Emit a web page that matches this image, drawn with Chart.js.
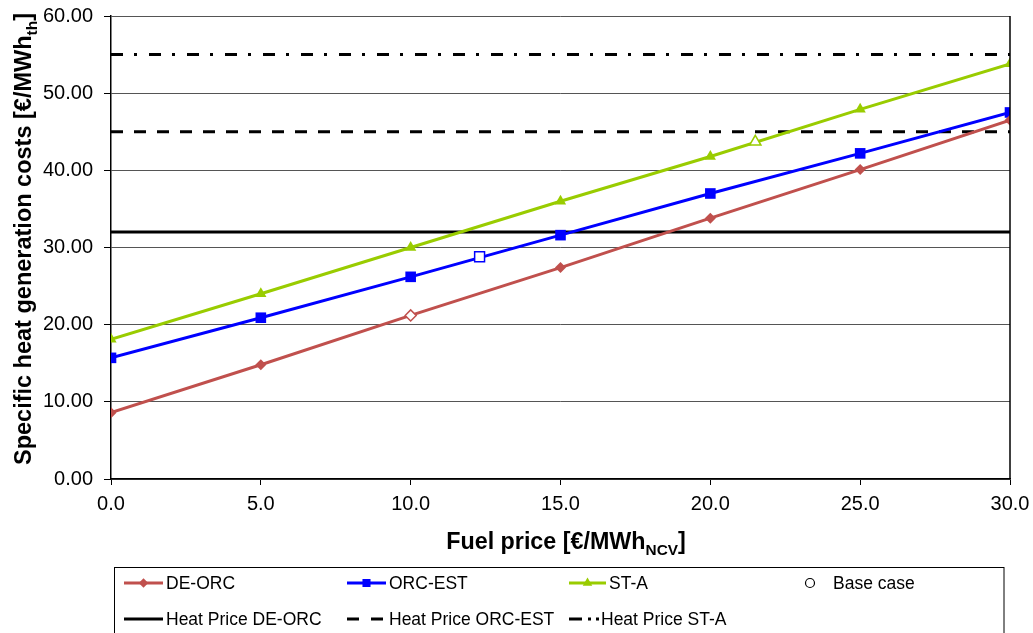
<!DOCTYPE html>
<html>
<head>
<meta charset="utf-8">
<script src="https://cdn.jsdelivr.net/npm/chart.js@4/dist/chart.umd.min.js"></script>
<style>
  body { margin: 0; background: #fff; }
  canvas { display: block; }
</style>
</head>
<body>
<canvas id="heatCosts" width="1033" height="633"></canvas>
<script>
// fuel price steps and heat generation costs per technology
const fuelPrice = [0, 5, 10, 15, 20, 25, 30];
const deOrc = [8.6, 14.8, 21.2, 27.4, 33.8, 40.1, 46.5];
const orcEst = [15.7, 20.9, 26.2, 31.6, 37.0, 42.2, 47.5];
const stA = [18.1, 24.0, 30.0, 36.0, 41.8, 47.9, 53.8];

// base case points (hollow markers)
const baseFuel = [10, 12.3, 21.5];
const baseCost = [21.2, 28.8, 43.7];

// heat prices (horizontal lines)
const heatPriceDeOrc = 32;
const heatPriceOrcEst = 45;
const heatPriceStA = 55;

const xTicks = [0, 5, 10, 15, 20, 25, 30];
const yTicks = [0, 10, 20, 30, 40, 50, 60];

const RED = "#C0504D";
const BLUE = "#0000FF";
const GREEN = "#99CC00";
const FONT = "'Liberation Sans', Arial, sans-serif";

function toPoints(xs, ys) {
  return xs.map((x, i) => ({ x, y: ys[i] }));
}

function flatLine(v) {
  return [{ x: xTicks[0], y: v }, { x: xTicks[xTicks.length - 1], y: v }];
}

const seriesDefs = [
  { label: "DE-ORC", data: deOrc, color: RED, style: "rectRot", r: 5.5, base: 10 },
  { label: "ORC-EST", data: orcEst, color: BLUE, style: "rect", r: 7.5, base: null },
  { label: "ST-A", data: stA, color: GREEN, style: "triangle", r: 6.5, base: null }
];

const datasets = [];

datasets.push({
  label: "Base case",
  data: toPoints(baseFuel, baseCost),
  showLine: false,
  pointStyle: ["rectRot", "rect", "triangle"],
  pointRadius: [5.5, 7, 6.5],
  borderColor: [RED, BLUE, GREEN],
  pointBackgroundColor: "#fff",
  pointBorderWidth: 1.5,
  order: 0
});

seriesDefs.forEach(s => {
  datasets.push({
    label: s.label,
    data: toPoints(fuelPrice, s.data),
    borderColor: s.color,
    backgroundColor: s.color,
    borderWidth: 3,
    pointStyle: s.style,
    // no filled marker where the hollow base case marker sits
    pointRadius: s.base === null ? s.r : ctx => (ctx.raw && ctx.raw.x === s.base ? 0 : s.r),
    pointBorderWidth: 0,
    pointBackgroundColor: s.color,
    tension: 0,
    order: 1
  });
});

[
  { label: "Heat Price DE-ORC", v: heatPriceDeOrc, dash: [] },
  { label: "Heat Price ORC-EST", v: heatPriceOrcEst, dash: [12, 11] },
  { label: "Heat Price ST-A", v: heatPriceStA, dash: [12, 11, 3, 12] }
].forEach(h => {
  datasets.push({
    label: h.label,
    data: flatLine(h.v),
    borderColor: "#000",
    borderWidth: 3,
    borderDash: h.dash,
    pointRadius: 0,
    order: 2
  });
});

function drawSubText(ctx, parts, x, y, size) {
  // parts: [text, isSub]
  let total = 0;
  const widths = parts.map(p => {
    ctx.font = "bold " + (p[1] ? size * 0.66 : size) + "px " + FONT;
    const w = ctx.measureText(p[0]).width;
    total += w;
    return w;
  });
  let cx = x - total / 2;
  parts.forEach((p, i) => {
    ctx.font = "bold " + (p[1] ? size * 0.66 : size) + "px " + FONT;
    ctx.fillText(p[0], cx, p[1] ? y + size * 0.25 : y);
    cx += widths[i];
  });
}

function legendItem(ctx, x, y, item) {
  ctx.save();
  ctx.strokeStyle = item.color;
  ctx.lineWidth = 3;
  ctx.setLineDash(item.dash || []);
  if (item.line !== false) {
    ctx.beginPath();
    ctx.moveTo(x, y);
    ctx.lineTo(x + item.len, y);
    ctx.stroke();
  }
  ctx.setLineDash([]);
  if (item.style) {
    ctx.fillStyle = item.fill;
    ctx.lineWidth = item.bw || 0;
    Chart.helpers.drawPoint(ctx, { pointStyle: item.style, radius: item.r, borderWidth: item.bw || 0, rotation: 0 }, x + item.len / 2, y);
  }
  ctx.fillStyle = "#000";
  ctx.font = "17.5px " + FONT;
  ctx.textBaseline = "middle";
  ctx.textAlign = "left";
  ctx.fillText(item.label, x + item.len + (item.gap || 3), y + 1);
  ctx.restore();
}

const extras = {
  id: "extras",
  afterDraw(chart) {
    const { ctx, chartArea } = chart;
    ctx.save();
    // right frame line
    ctx.strokeStyle = "#000";
    ctx.lineWidth = 1.5;
    ctx.beginPath();
    ctx.moveTo(chartArea.right, chartArea.top);
    ctx.lineTo(chartArea.right, chartArea.bottom);
    ctx.stroke();

    // axis titles with subscripts
    ctx.fillStyle = "#000";
    ctx.textBaseline = "alphabetic";
    ctx.textAlign = "left";
    drawSubText(ctx, [["Fuel price [€/MWh", false], ["NCV", true], ["]", false]], 566, 549, 23.3);
    ctx.save();
    ctx.translate(31, 239);
    ctx.rotate(-Math.PI / 2);
    drawSubText(ctx, [["Specific heat generation costs [€/MWh", false], ["th", true], ["]", false]], 0, 0, 23.5);
    ctx.restore();

    // legend box
    ctx.strokeStyle = "#000";
    ctx.lineWidth = 1;
    ctx.strokeRect(114.5, 567.5, 889.5, 80);

    const r1 = 583, r2 = 619;
    legendItem(ctx, 124, r1, { label: "DE-ORC", color: RED, len: 39, style: "rectRot", r: 4.7, fill: RED });
    legendItem(ctx, 347, r1, { label: "ORC-EST", color: BLUE, len: 39, style: "rect", r: 5.7, fill: BLUE });
    legendItem(ctx, 569, r1, { label: "ST-A", color: GREEN, len: 37, style: "triangle", r: 5.5, fill: GREEN });
    ctx.strokeStyle = "#000";
    legendItem(ctx, 798, r1, { label: "Base case", color: "#000", len: 24, gap: 11, line: false, style: "circle", r: 4.5, fill: "#fff", bw: 1.2 });
    legendItem(ctx, 124, r2, { label: "Heat Price DE-ORC", color: "#000", len: 39 });
    legendItem(ctx, 347, r2, { label: "Heat Price ORC-EST", color: "#000", len: 39, dash: [12, 12] });
    legendItem(ctx, 569, r2, { label: "Heat Price ST-A", color: "#000", len: 31, gap: 1, dash: [13, 6, 3, 5, 3, 5] });
    ctx.restore();
  }
};

new Chart(document.getElementById("heatCosts"), {
  type: "line",
  data: { datasets },
  options: {
    responsive: false,
    animation: false,
    layout: { padding: { top: 16, right: 23, bottom: 74, left: 0 } },
    plugins: {
      legend: { display: false },
      tooltip: { enabled: false }
    },
    scales: {
      x: {
        type: "linear",
        min: 0,
        max: 30,
        afterFit: s => { s.height = 80; s.paddingLeft = 0; s.paddingRight = 0; },
        afterBuildTicks: s => { s.ticks = xTicks.map(v => ({ value: v })); },
        ticks: {
          padding: 7,
          color: "#000",
          font: { family: FONT, size: 20 },
          callback: v => v.toFixed(1)
        },
        grid: { drawOnChartArea: false, drawTicks: true, tickLength: 6, tickColor: "#000", tickWidth: 1 },
        border: { color: "#000", width: 1.5 }
      },
      y: {
        min: 0,
        max: 60,
        afterFit: s => { s.width = 111; s.paddingTop = 0; s.paddingBottom = 0; },
        afterBuildTicks: s => { s.ticks = yTicks.map(v => ({ value: v })); },
        ticks: {
          padding: 11,
          color: "#000",
          font: { family: FONT, size: 20 },
          callback: v => v.toFixed(2)
        },
        grid: {
          color: "#555",
          lineWidth: 1,
          borderDash: [2, 2],
          tickLength: 7,
          tickColor: "#000",
          tickBorderDash: [],
          tickWidth: 1
        },
        border: { color: "#000", width: 1.5 }
      }
    }
  },
  plugins: [extras]
});
</script>
</body>
</html>
